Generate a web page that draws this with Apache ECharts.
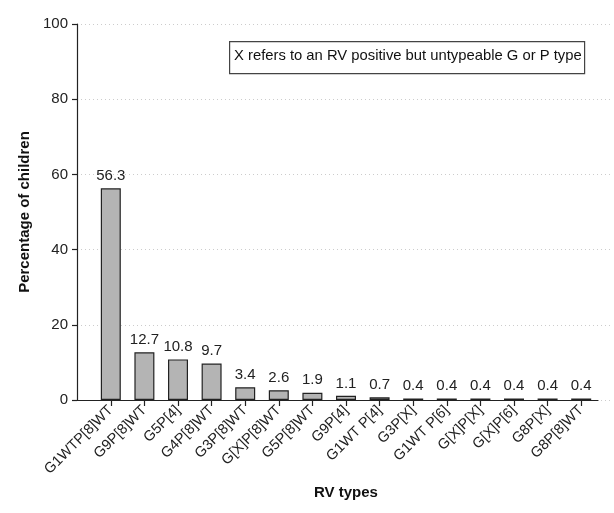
<!DOCTYPE html>
<html>
<head>
<meta charset="utf-8">
<script src="https://cdn.jsdelivr.net/npm/echarts@6/dist/echarts.min.js"></script>
<style>html,body{margin:0;padding:0;background:#fff;}#c{width:614px;height:513px;}</style>
</head>
<body>
<div id="c"></div>
<script>
var categories = ["G1WTP[8]WT", "G9P[8]WT", "G5P[4]", "G4P[8]WT", "G3P[8]WT", "G[X]P[8]WT", "G5P[8]WT", "G9P[4]", "G1WT P[4]", "G3P[X]", "G1WT P[6]", "G[X]P[X]", "G[X]P[6]", "G8P[X]", "G8P[8]WT"];
var percentages = [56.3, 12.7, 10.8, 9.7, 3.4, 2.6, 1.9, 1.1, 0.7, 0.4, 0.4, 0.4, 0.4, 0.4, 0.4];
var yTicks = [0, 20, 40, 60, 80, 100];
var noteText = "X refers to an RV positive but untypeable G or P type";

var font = "Liberation Sans, Arial, sans-serif";
var chart = echarts.init(document.getElementById('c'), null, {renderer: 'canvas'});
var gTop = 24, gBottom = 113;
chart.setOption({
  animation: false,
  backgroundColor: '#fff',
  textStyle: {fontFamily: font},
  grid: [
    {left: 77, top: gTop, width: 535, bottom: gBottom, containLabel: false},
    {left: 77, top: gTop, width: 521, bottom: gBottom, containLabel: false},
    {left: 94, top: gTop, width: 504, bottom: gBottom, containLabel: false}
  ],
  xAxis: [
    {gridIndex: 0, type: 'value', min: 0, max: 1, show: false},
    {gridIndex: 1, type: 'value', min: 0, max: 1, splitLine: {show: false},
     axisLine: {show: true, lineStyle: {color: '#222', width: 1.2}}, axisTick: {show: false}, axisLabel: {show: false}},
    {gridIndex: 2, type: 'category', data: categories, boundaryGap: true,
     axisLine: {show: false},
     axisTick: {show: true, alignWithLabel: true, length: 6, lineStyle: {color: '#222', width: 1.2}},
     axisLabel: {interval: 0, rotate: 45, fontSize: 14.5, color: '#222', fontFamily: font, margin: 8},
     name: 'RV types', nameLocation: 'middle', nameGap: 85,
     nameTextStyle: {fontSize: 15, fontWeight: 'bold', color: '#111', fontFamily: font}}
  ],
  yAxis: [
    {gridIndex: 0, type: 'value', min: yTicks[0], max: yTicks[yTicks.length - 1], interval: 20,
     axisLine: {show: true, lineStyle: {color: '#222', width: 1.2}},
     axisTick: {show: true, length: 5, lineStyle: {color: '#222', width: 1.2}},
     axisLabel: {fontSize: 15, color: '#222', fontFamily: font, margin: 9},
     splitLine: {show: true, lineStyle: {color: '#cccccc', type: [1, 3], width: 1}},
     name: 'Percentage of children', nameLocation: 'middle', nameGap: 43, nameRotate: 90,
     nameTextStyle: {fontSize: 15, fontWeight: 'bold', color: '#111', fontFamily: font}},
    {gridIndex: 1, type: 'value', min: 0, max: 100, show: false},
    {gridIndex: 2, type: 'value', min: 0, max: 100, show: false}
  ],
  series: [{
    type: 'bar',
    xAxisIndex: 2, yAxisIndex: 2,
    data: percentages,
    barWidth: 20,
    itemStyle: {color: '#b4b4b4', borderColor: '#222', borderWidth: 1.2},
    label: {show: true, position: 'top', distance: 5, fontSize: 15, color: '#222', fontFamily: font,
            formatter: function (p) { return p.value.toFixed(1); }}
  }],
  graphic: [
    {type: 'rect', left: 229, top: 41, shape: {width: 355, height: 32},
     style: {fill: '#fff', stroke: '#444', lineWidth: 1.2}, z: 10},
    {type: 'text', left: 234, top: 48, z: 11,
     style: {text: noteText, fontSize: 14.8, fill: '#111', fontFamily: font}}
  ]
});
</script>
</body>
</html>
